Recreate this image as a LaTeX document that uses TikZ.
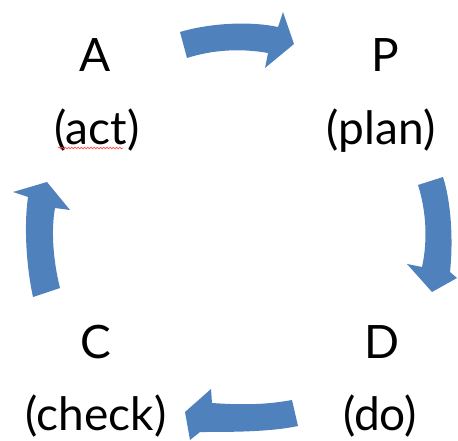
\documentclass[tikz,border=0pt]{standalone}
\usepackage{fontspec}
\setmainfont{Lato}
\usetikzlibrary{decorations.pathmorphing}
\definecolor{cycleblue}{HTML}{4F81BD}
\begin{document}
\begin{tikzpicture}[x=1pt,y=-1pt,
  steptext/.style={anchor=base,inner sep=0pt,font=\fontsize{46}{52}\selectfont},
  cyclearrow/.style={fill=cycleblue,draw=none}]
\useasboundingbox (0,0) rectangle (458,441);

% letters and their meanings
\node[steptext] (A)   at (95,72)  {A};
\node[steptext] (act) at (97,145) {(act)};
\node[steptext] (P)   at (385,72) {P};
\node[steptext] (plan) at (381,145) {(plan)};
\node[steptext] (C)   at (96,358) {C};
\node[steptext] (check) at (96,430) {(check)};
\node[steptext] (D)   at (382,358) {D};
\node[steptext] (do)  at (380,430) {(do)};

% spell-check squiggle under "act"
\draw[red!75,line width=0.6pt,decorate,
      decoration={snake,amplitude=0.9pt,segment length=3.2pt}]
  (58,148) -- (123,148);

% curved block arrows running clockwise
\fill[cyclearrow] (180,32) .. controls (210,23) and (250,21) .. (278,27)
  -- (283,12) -- (294,44) -- (265,68) -- (268,53)
  .. controls (240,48) and (212,50) .. (187,58) -- cycle;

\fill[cyclearrow] (418,185) .. controls (426,210) and (428,240) .. (422,267)
  -- (407,264) -- (432,292) -- (457,278) -- (450,272)
  .. controls (453,245) and (452,205) .. (443,177) -- cycle;

\fill[cyclearrow] (292,400) .. controls (265,405) and (240,405) .. (212,403)
  -- (211,389) -- (185,412) -- (190,440) -- (200,432)
  .. controls (230,432) and (270,432) .. (298,426) -- cycle;

\fill[cyclearrow] (33,297) .. controls (26,265) and (24,225) .. (28,197)
  -- (13,192) -- (47,182) -- (70,210) -- (55,208)
  .. controls (51,230) and (53,260) .. (60,288) -- cycle;
\end{tikzpicture}
\end{document}
